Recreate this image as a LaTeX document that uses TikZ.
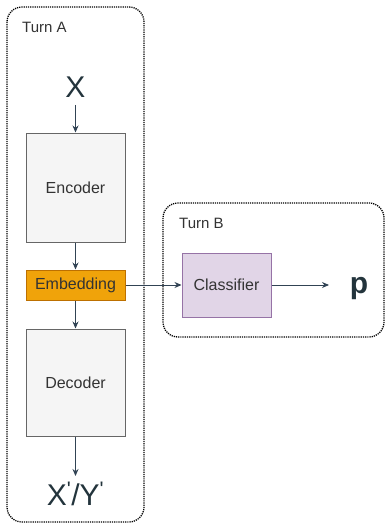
\documentclass[tikz,border=0pt]{standalone}
\usepackage{fontspec}
\setmainfont{Liberation Sans}
\usetikzlibrary{arrows.meta}
\definecolor{txt}{HTML}{333333}
\definecolor{dark}{HTML}{23343C}
\definecolor{arr}{HTML}{314354}
\definecolor{grayfill}{HTML}{F5F5F5}
\definecolor{grayline}{HTML}{666666}
\definecolor{orfill}{HTML}{F0A30A}
\definecolor{orline}{HTML}{BD7000}
\definecolor{pufill}{HTML}{E1D5E7}
\definecolor{puline}{HTML}{9673A6}
\tikzset{
  frame/.style={draw=black, line width=1.3pt, dash pattern=on 1.2pt off 1.0pt, rounded corners=15pt},
  blockbox/.style={draw=grayline, fill=grayfill, line width=1pt, inner sep=0pt, text=txt, font=\fontsize{16}{19}\selectfont},
  embbox/.style={draw=orline, fill=orfill, line width=1pt, inner sep=0pt, text=txt, font=\fontsize{16}{19}\selectfont},
  clsbox/.style={draw=puline, fill=pufill, line width=1pt, inner sep=0pt, text=txt, font=\fontsize{16}{19}\selectfont},
  lbl/.style={text=txt, anchor=west, inner sep=0pt, font=\fontsize{15}{18}\selectfont},
  big/.style={text=dark, inner sep=0pt, font=\fontsize{30}{34}\selectfont},
  conn/.style={draw=arr, line width=0.9pt, -{Stealth[length=7pt,width=6pt]}}
}
\begin{document}
\begin{tikzpicture}[x=1pt,y=-1pt]
\useasboundingbox (0,0) rectangle (385,524);
% frames
\draw[frame] (7,7) rectangle (144,522);
\draw[frame] (163,203) rectangle (384,337);
\node[lbl] (ta) at (22,27) {Turn A};
\node[lbl] (tb) at (179,223) {Turn B};
% nodes
\node[big] (x) at (75.5,87) {X};
\node[blockbox, minimum width=99pt, minimum height=109pt] (enc) at (75.5,187.5) {Encoder};
\node[embbox, minimum width=99pt, minimum height=30pt] (emb) at (75.5,285) {Embedding};
\node[blockbox, minimum width=99pt, minimum height=107pt] (dec) at (75.5,382.5) {Decoder};
\node[big] (out) at (75.5,494) {X\textsuperscript{\textquotesingle}/Y\textsuperscript{\textquotesingle}};
\node[clsbox, minimum width=89pt, minimum height=64pt] (cls) at (226.5,285) {Classifier};
\node[big, font=\fontsize{30}{34}\selectfont\bfseries] (p) at (359,289) {p};
\coordinate (pin) at (329,285);
% connectors
\draw[conn] (x.south |- 0,105) -- (enc.north);
\draw[conn] (enc) -- (emb);
\draw[conn] (emb) -- (dec);
\draw[conn] (dec.south) -- (75.5,476);
\draw[conn] (emb) -- (cls);
\draw[conn] (cls) -- (pin);
\end{tikzpicture}
\end{document}
